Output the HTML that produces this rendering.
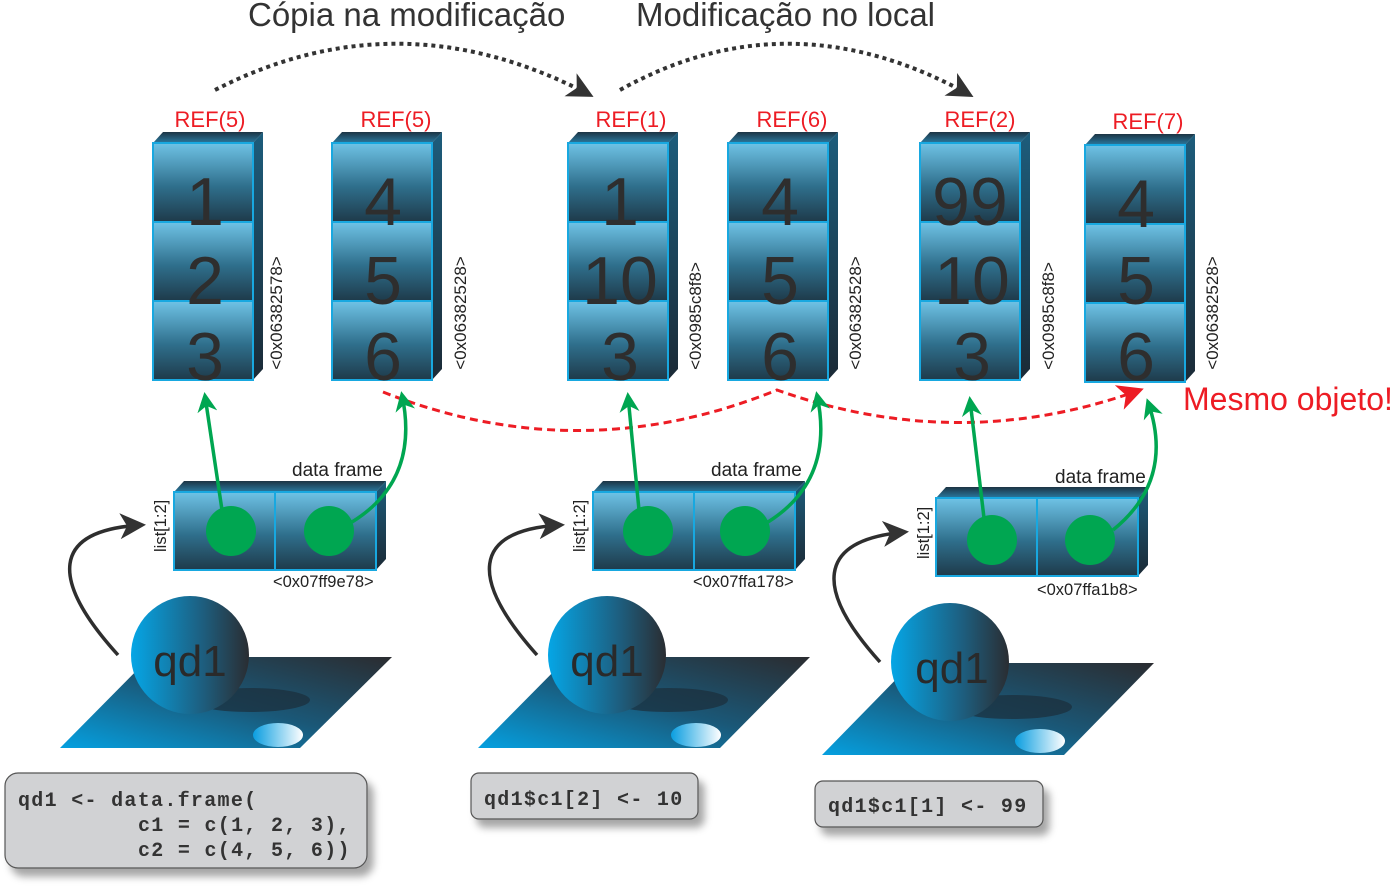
<!DOCTYPE html>
<html><head><meta charset="utf-8"><style>
html,body{margin:0;padding:0;background:#fff;}
svg{display:block;font-family:"Liberation Sans",sans-serif;}
.mono{font-family:"Liberation Mono",monospace;font-weight:bold;white-space:pre;letter-spacing:1.3px;}
</style></head><body>
<svg width="1399" height="895" viewBox="0 0 1399 895" xmlns="http://www.w3.org/2000/svg">
<defs>
<linearGradient id="cell" x1="0" y1="0" x2="0" y2="1">
<stop offset="0" stop-color="#6fc3e6"/><stop offset="0.55" stop-color="#2f6f8c"/><stop offset="1" stop-color="#1e3a4a"/>
</linearGradient>
<linearGradient id="topg" x1="0" y1="0" x2="0" y2="1">
<stop offset="0" stop-color="#1c3444"/><stop offset="1" stop-color="#2a7aa0"/>
</linearGradient>
<linearGradient id="sideg" x1="0" y1="0" x2="0" y2="1">
<stop offset="0" stop-color="#1d5d7c"/><stop offset="1" stop-color="#1b2a36"/>
</linearGradient>
<linearGradient id="sph" x1="0" y1="0" x2="1" y2="0">
<stop offset="0" stop-color="#05a6e6"/><stop offset="0.6" stop-color="#1d5f80"/><stop offset="1" stop-color="#2a2d32"/>
</linearGradient>
<linearGradient id="pl" x1="0" y1="1" x2="1" y2="0">
<stop offset="0" stop-color="#05a0e0"/><stop offset="0.5" stop-color="#1a5878"/><stop offset="1" stop-color="#2b2c30"/>
</linearGradient>
<linearGradient id="el" x1="0" y1="0" x2="1" y2="0">
<stop offset="0" stop-color="#0a9ee0"/><stop offset="1" stop-color="#ffffff"/>
</linearGradient>
<symbol id="col" overflow="visible">
<polygon points="0,0 10,-11 110,-11 100,0" fill="url(#topg)"/>
<polygon points="100,0 110,-11 110,226 100,237" fill="url(#sideg)"/>
<rect x="0" y="0" width="100" height="79" fill="url(#cell)" stroke="#18a8e0" stroke-width="2"/>
<rect x="0" y="79" width="100" height="79" fill="url(#cell)" stroke="#18a8e0" stroke-width="2"/>
<rect x="0" y="158" width="100" height="79" fill="url(#cell)" stroke="#18a8e0" stroke-width="2"/>
</symbol>
<symbol id="df" overflow="visible">
<polygon points="0,0 10,-11 212,-11 202,0" fill="url(#topg)"/>
<polygon points="202,0 212,-11 212,67 202,78" fill="url(#sideg)"/>
<rect x="0" y="0" width="101" height="78" fill="url(#cell)" stroke="#18a8e0" stroke-width="2"/>
<rect x="101" y="0" width="101" height="78" fill="url(#cell)" stroke="#18a8e0" stroke-width="2"/>
</symbol>
<marker id="abig" markerWidth="26" markerHeight="26" refX="22" refY="13" orient="auto" markerUnits="userSpaceOnUse" viewBox="0 0 26 26"><path d="M0,0 L26,13 L0,26 L7,13z" fill="#333"/></marker>
<marker id="ag" markerWidth="20" markerHeight="20" refX="16" refY="10" orient="auto" markerUnits="userSpaceOnUse" viewBox="0 0 20 20"><path d="M0,0 L20,10 L0,20 L6,10z" fill="#00a651"/></marker>
<marker id="ar" markerWidth="26" markerHeight="26" refX="22" refY="13" orient="auto" markerUnits="userSpaceOnUse" viewBox="0 0 26 26"><path d="M0,0 L26,13 L0,26 L7,13z" fill="#ed1c24"/></marker>
<filter id="sh" x="-10%" y="-10%" width="130%" height="140%"><feDropShadow dx="6" dy="8" stdDeviation="4" flood-color="#000" flood-opacity="0.35"/></filter>
</defs>

<text x="248" y="26" font-size="33" fill="#333">Cópia na modificação</text>
<text x="636" y="26" font-size="33" fill="#333">Modificação no local</text>
<path d="M215,90 Q400,-5 590,95" fill="none" stroke="#333" stroke-width="4" stroke-dasharray="4,4" marker-end="url(#abig)"/>
<path d="M620,90 Q790,-5 970,95" fill="none" stroke="#333" stroke-width="4" stroke-dasharray="4,4" marker-end="url(#abig)"/>

<g font-size="22" fill="#ed1c24" text-anchor="middle">
<text x="210" y="127">REF(5)</text><text x="396" y="127">REF(5)</text>
<text x="631" y="127">REF(1)</text><text x="792" y="127">REF(6)</text>
<text x="980" y="127">REF(2)</text><text x="1148" y="129">REF(7)</text>
</g>

<use href="#col" x="153" y="143"/><use href="#col" x="332" y="143"/>
<use href="#col" x="568" y="143"/><use href="#col" x="728" y="143"/>
<use href="#col" x="920" y="143"/><use href="#col" x="1085" y="145"/>
<g font-size="68" fill="#2e2e2e" text-anchor="middle">
<text x="205" y="225">1</text><text x="205" y="304">2</text><text x="205" y="380">3</text>
<text x="383" y="225">4</text><text x="383" y="304">5</text><text x="383" y="380">6</text>
<text x="620" y="225">1</text><text x="620" y="304">10</text><text x="620" y="380">3</text>
<text x="780" y="225">4</text><text x="780" y="304">5</text><text x="780" y="380">6</text>
<text x="970" y="225">99</text><text x="972" y="304">10</text><text x="972" y="380">3</text>
<text x="1136" y="227">4</text><text x="1136" y="304">5</text><text x="1136" y="380">6</text>
</g>
<g font-size="17" fill="#222" text-anchor="middle">
<text transform="translate(282,313) rotate(-90)">&lt;0x06382578&gt;</text>
<text transform="translate(466,313) rotate(-90)">&lt;0x06382528&gt;</text>
<text transform="translate(701,316) rotate(-90)">&lt;0x0985c8f8&gt;</text>
<text transform="translate(861,313) rotate(-90)">&lt;0x06382528&gt;</text>
<text transform="translate(1054,316) rotate(-90)">&lt;0x0985c8f8&gt;</text>
<text transform="translate(1218,313) rotate(-90)">&lt;0x06382528&gt;</text>
</g>

<path d="M383,392 Q580,470 777,390 Q960,455 1140,390" fill="none" stroke="#ed1c24" stroke-width="3" stroke-dasharray="8,5" marker-end="url(#ar)"/>
<text x="1183" y="410" font-size="32" fill="#ed1c24">Mesmo objeto!</text>

<use href="#df" x="174" y="492"/><use href="#df" x="593" y="492"/><use href="#df" x="936" y="498"/>
<g fill="#00a651">
<circle cx="231" cy="531" r="25"/><circle cx="329" cy="531" r="25"/>
<circle cx="648" cy="531" r="25"/><circle cx="745" cy="531" r="25"/>
<circle cx="992" cy="540" r="25"/><circle cx="1090" cy="540" r="25"/>
</g>
<g fill="none" stroke="#00a651" stroke-width="3.5">
<path d="M222,510 L205,396" marker-end="url(#ag)"/>
<path d="M352,522 Q420,480 402,395" marker-end="url(#ag)"/>
<path d="M639,510 L628,396" marker-end="url(#ag)"/>
<path d="M768,522 Q835,480 817,395" marker-end="url(#ag)"/>
<path d="M984,518 L970,400" marker-end="url(#ag)"/>
<path d="M1113,530 Q1175,480 1148,402" marker-end="url(#ag)"/>
</g>
<g font-size="19" fill="#222">
<text x="292" y="476">data frame</text><text x="711" y="476">data frame</text><text x="1055" y="483">data frame</text>
</g>
<g font-size="16.5" fill="#222">
<text x="273" y="587">&lt;0x07ff9e78&gt;</text><text x="693" y="587">&lt;0x07ffa178&gt;</text><text x="1037" y="595">&lt;0x07ffa1b8&gt;</text>
<text transform="translate(166,552) rotate(-90)">list[1:2]</text>
<text transform="translate(585,552) rotate(-90)">list[1:2]</text>
<text transform="translate(929,559) rotate(-90)">list[1:2]</text>
</g>

<g fill="none" stroke="#2e2e2e" stroke-width="3.5">
<path d="M118,655 C50,580 50,530 142,525" marker-end="url(#abig)"/>
<path d="M537,655 C470,580 470,530 561,525" marker-end="url(#abig)"/>
<path d="M880,662 C815,590 815,540 905,532" marker-end="url(#abig)"/>
</g>

<g>
<polygon points="60,748 150,657 392,657 300,748" fill="url(#pl)"/>
<ellipse cx="250" cy="700" rx="60" ry="12" fill="#1b2e3a" opacity="0.7"/>
<ellipse cx="278" cy="735" rx="25" ry="12" fill="url(#el)"/>
<circle cx="190" cy="655" r="59" fill="url(#sph)"/>
<text x="190" y="676" font-size="44" fill="#2a2a2a" text-anchor="middle">qd1</text>

<polygon points="478,748 568,657 810,657 720,748" fill="url(#pl)"/>
<ellipse cx="668" cy="700" rx="60" ry="12" fill="#1b2e3a" opacity="0.7"/>
<ellipse cx="696" cy="735" rx="25" ry="12" fill="url(#el)"/>
<circle cx="607" cy="655" r="59" fill="url(#sph)"/>
<text x="607" y="676" font-size="44" fill="#2a2a2a" text-anchor="middle">qd1</text>

<polygon points="822,755 912,663 1154,663 1064,755" fill="url(#pl)"/>
<ellipse cx="1012" cy="707" rx="60" ry="12" fill="#1b2e3a" opacity="0.7"/>
<ellipse cx="1040" cy="741" rx="25" ry="12" fill="url(#el)"/>
<circle cx="950" cy="662" r="59" fill="url(#sph)"/>
<text x="952" y="683" font-size="44" fill="#2a2a2a" text-anchor="middle">qd1</text>
</g>

<g filter="url(#sh)" fill="#d1d2d4" stroke="#555" stroke-width="1.2">
<rect x="5" y="773" width="362" height="95" rx="13"/>
<rect x="471" y="773" width="227" height="46" rx="8"/>
<rect x="815" y="781" width="228" height="46" rx="8"/>
</g>
<g class="mono" font-size="20" fill="#333">
<text x="18" y="806">qd1 &lt;- data.frame(</text>
<text x="138" y="831">c1 = c(1, 2, 3),</text>
<text x="138" y="856">c2 = c(4, 5, 6))</text>
<text x="484" y="805">qd1$c1[2] &lt;- 10</text>
<text x="828" y="812">qd1$c1[1] &lt;- 99</text>
</g>
</svg>
</body></html>
